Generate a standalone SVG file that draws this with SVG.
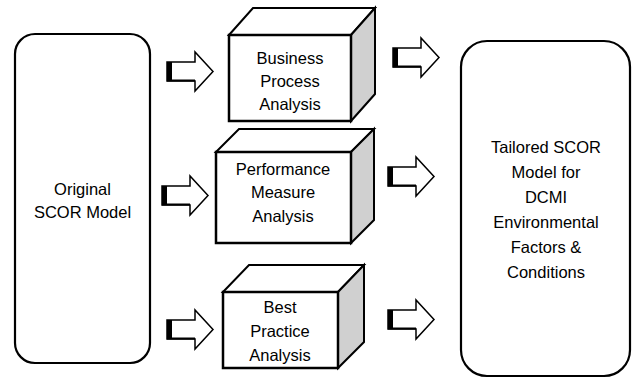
<svg xmlns="http://www.w3.org/2000/svg" width="632" height="378" viewBox="0 0 632 378">
<style>
.box{fill:#fff;stroke:#000;stroke-width:2.2}
.front{fill:#fff;stroke:#000;stroke-width:2.5}
.top{fill:#fff;stroke:#000;stroke-width:2}
.side{fill:#d0d0d0;stroke:#000;stroke-width:2}
.t{font-family:"Liberation Sans",Arial,sans-serif;font-size:16.5px;fill:#000;text-anchor:middle}
</style>
<defs>
<g id="arr">
<path d="M0,10 H28 V0 L46,19.5 L28,39 V29 H0 Z" fill="#fff" stroke="#000" stroke-width="1.5"/>
<rect x="0" y="10" width="5" height="19" fill="#000"/>
<line x1="0" y1="28.5" x2="28" y2="28.5" stroke="#000" stroke-width="2"/>
</g>
</defs>
<g id="original">
<rect class="box" x="15" y="34" width="135" height="329" rx="20"/>
<text class="t" x="82.5" y="195">Original</text>
<text class="t" x="82.5" y="218">SCOR Model</text>
</g>
<g id="tailored">
<rect class="box" x="461" y="41" width="169" height="335" rx="26"/>
<text class="t" x="546" y="153">Tailored SCOR</text>
<text class="t" x="546" y="178">Model for</text>
<text class="t" x="546" y="203">DCMI</text>
<text class="t" x="546" y="228">Environmental</text>
<text class="t" x="546" y="253">Factors &amp;</text>
<text class="t" x="546" y="278">Conditions</text>
</g>
<g id="bpa">
<polygon class="top" points="229,35 253,8 375,8 351,35"/>
<polygon class="side" points="351,35 375,8 375,94 351,121"/>
<rect class="front" x="229" y="35" width="122" height="86"/>
<text class="t" x="290" y="64">Business</text>
<text class="t" x="290" y="87">Process</text>
<text class="t" x="290" y="110">Analysis</text>
</g>
<g id="pma">
<polygon class="top" points="216,152 239,129 374,129 351,152"/>
<polygon class="side" points="351,152 374,129 374,220 351,243"/>
<rect class="front" x="216" y="152" width="135" height="91"/>
<text class="t" x="283" y="175">Performance</text>
<text class="t" x="283" y="198">Measure</text>
<text class="t" x="283" y="222">Analysis</text>
</g>
<g id="bpra">
<polygon class="top" points="223,292 249,265 364,265 338,292"/>
<polygon class="side" points="338,292 364,265 364,342 338,368"/>
<rect class="front" x="223" y="292" width="115" height="76"/>
<text class="t" x="280" y="313">Best</text>
<text class="t" x="280" y="337">Practice</text>
<text class="t" x="280" y="361">Analysis</text>
</g>
<g id="connectors">
<use href="#arr" x="167" y="52"/>
<use href="#arr" x="162" y="176"/>
<use href="#arr" x="167" y="310"/>
<use href="#arr" x="393" y="38"/>
<use href="#arr" x="388" y="157"/>
<use href="#arr" x="388" y="300"/>
</g>
</svg>
